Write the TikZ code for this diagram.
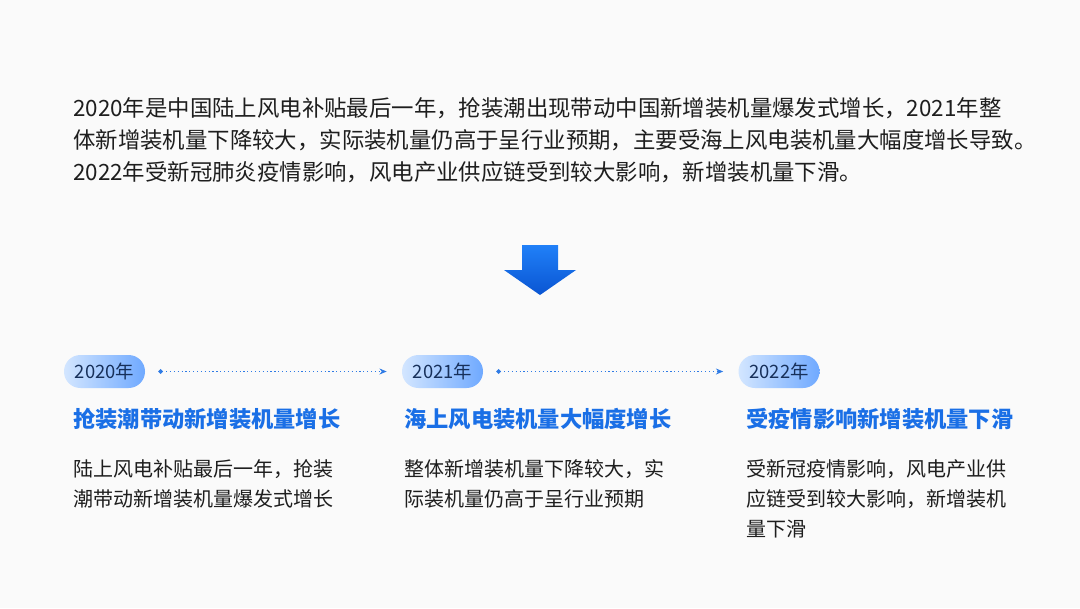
\documentclass[tikz,border=0pt]{standalone}
\usepackage{fontspec}
\setmainfont{Noto Sans CJK SC}
\usetikzlibrary{arrows.meta}
\definecolor{bgc}{HTML}{FAFAFA}
\definecolor{txt}{HTML}{1E1E1E}
\definecolor{headc}{HTML}{1A6FE6}
\definecolor{pillL}{HTML}{D3E6FF}
\definecolor{pillR}{HTML}{6FA9FF}
\definecolor{pilltxt}{HTML}{17305A}
\definecolor{lnc}{HTML}{2F7BE5}
\definecolor{arrT}{HTML}{2080F8}
\definecolor{arrB}{HTML}{0A55D2}
\begin{document}
\begin{tikzpicture}[x=0.75pt,y=-0.75pt,
  para/.style={anchor=west,inner sep=0pt,text=txt,font=\fontsize{16.8pt}{20pt}\selectfont},
  head/.style={anchor=west,inner sep=0pt,text=headc,font=\fontsize{16.7pt}{20pt}\selectfont\bfseries},
  body/.style={anchor=west,inner sep=0pt,text=txt,font=\fontsize{15pt}{18pt}\selectfont},
  pill/.style={minimum width=60.75pt,minimum height=24.75pt,inner sep=0pt,rounded corners=12.3pt,
     left color=pillL,right color=pillR,text=pilltxt,font=\fontsize{13.8pt}{16pt}\selectfont},
  link/.style={draw=lnc,line width=0.9pt,dotted,{Circle[length=3.4pt,width=3.4pt,fill=lnc]}-{Stealth[length=5.5pt,width=4.5pt]},
     shorten <=9.75pt,shorten >=11.25pt}]
\fill[bgc] (0,0) rectangle (1080,608);
\useasboundingbox (0,0) rectangle (1080,608);
% paragraph
\node[para] (l1) at (73,108) {2020年是中国陆上风电补贴最后一年，抢装潮出现带动中国新增装机量爆发式增长，2021年整};
\node[para] (l2) at (73,140) {体新增装机量下降较大，实际装机量仍高于呈行业预期，主要受海上风电装机量大幅度增长导致。};
\node[para] (l3) at (73,172) {2022年受新冠肺炎疫情影响，风电产业供应链受到较大影响，新增装机量下滑。};
% down arrow
\shade[top color=arrT,bottom color=arrB]
  (522,245) -- (558,245) -- (558,270) -- (576,270) -- (540,295) -- (504,270) -- (522,270) -- cycle;
% pills
\node[pill] (p1) at (104.5,371.5) {2020年};
\node[pill] (p2) at (442.5,371.5) {2021年};
\node[pill] (p3) at (779,371.5) {2022年};
\draw[link] (p1.east) -- (p2.west);
\draw[link] (p2.east) -- (p3.west);
% headings
\node[head] (h1) at (73,419) {抢装潮带动新增装机量增长};
\node[head] (h2) at (404,419) {海上风电装机量大幅度增长};
\node[head] (h3) at (746,419) {受疫情影响新增装机量下滑};
% bodies
\node[body] (b1a) at (73,469) {陆上风电补贴最后一年，抢装};
\node[body] (b1b) at (73,499) {潮带动新增装机量爆发式增长};
\node[body] (b2a) at (404,469) {整体新增装机量下降较大，实};
\node[body] (b2b) at (404,499) {际装机量仍高于呈行业预期};
\node[body] (b3a) at (746,469) {受新冠疫情影响，风电产业供};
\node[body] (b3b) at (746,499) {应链受到较大影响，新增装机};
\node[body] (b3c) at (746,529) {量下滑};
\end{tikzpicture}
\end{document}
